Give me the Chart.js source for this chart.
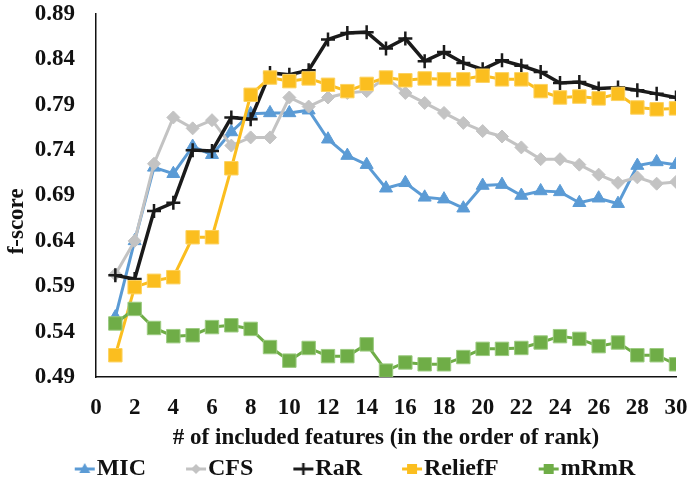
<!DOCTYPE html>
<html>
<head>
<meta charset="utf-8">
<script src="https://cdn.jsdelivr.net/npm/chart.js@4"></script>
<style>
    html, body { margin: 0; padding: 0; background: #fff; }
    #wrap { width: 688px; height: 491px; }
</style>
</head>
<body>
<div id="wrap"><canvas id="chart-fscore"></canvas></div>
<script>
const featureCounts = [1, 2, 3, 4, 5, 6, 7, 8, 9, 10, 11, 12, 13, 14, 15, 16, 17, 18, 19, 20, 21, 22, 23, 24, 25, 26, 27, 28, 29, 30];
const micScores = [0.556, 0.640, 0.721, 0.714, 0.744, 0.735, 0.760, 0.780, 0.781, 0.781, 0.784, 0.752, 0.734, 0.724, 0.698, 0.704, 0.688, 0.686, 0.676, 0.701, 0.702, 0.690, 0.695, 0.694, 0.682, 0.687, 0.681, 0.723, 0.727, 0.724];
const cfsScores = [0.603, 0.640, 0.725, 0.776, 0.764, 0.773, 0.745, 0.754, 0.754, 0.798, 0.788, 0.798, 0.803, 0.805, 0.820, 0.803, 0.792, 0.781, 0.770, 0.761, 0.755, 0.743, 0.730, 0.730, 0.724, 0.713, 0.704, 0.710, 0.703, 0.705];
const rarScores = [0.602, 0.598, 0.673, 0.682, 0.740, 0.739, 0.776, 0.774, 0.825, 0.823, 0.828, 0.862, 0.869, 0.870, 0.852, 0.863, 0.838, 0.848, 0.836, 0.829, 0.839, 0.833, 0.826, 0.814, 0.815, 0.808, 0.809, 0.806, 0.802, 0.798];
const reliefScores = [0.514, 0.589, 0.596, 0.600, 0.644, 0.644, 0.720, 0.801, 0.820, 0.816, 0.819, 0.812, 0.805, 0.813, 0.820, 0.817, 0.819, 0.818, 0.818, 0.822, 0.818, 0.818, 0.805, 0.798, 0.799, 0.797, 0.802, 0.787, 0.785, 0.786];
const mrmrScores = [0.549, 0.565, 0.544, 0.535, 0.536, 0.545, 0.547, 0.543, 0.523, 0.508, 0.522, 0.513, 0.513, 0.526, 0.497, 0.506, 0.504, 0.504, 0.512, 0.521, 0.521, 0.522, 0.528, 0.535, 0.532, 0.524, 0.528, 0.514, 0.514, 0.504];
const xTickValues = [0, 2, 4, 6, 8, 10, 12, 14, 16, 18, 20, 22, 24, 26, 28, 30];
const yTickValues = [0.49, 0.54, 0.59, 0.64, 0.69, 0.74, 0.79, 0.84, 0.89];

const FONT = "'Liberation Serif', 'Times New Roman', serif";
const LEGEND_BOX = 44;

const series = [
    { label: 'MIC', data: micScores, color: '#5B9BD5', marker: 'triangle', radius: 7.5, border: '#5B9BD5', width: 3 },
    { label: 'CFS', data: cfsScores, color: '#C3C3C3', marker: 'rectRot', radius: 6.5, border: '#C3C3C3', width: 3 },
    { label: 'RaR', data: rarScores, color: '#1A1A1A', marker: 'cross', radius: 7, border: '#1A1A1A', width: 3.5 },
    { label: 'ReliefF', data: reliefScores, color: '#FBBE1F', marker: 'rect', radius: 9.5, border: '#FCD260', width: 3 },
    { label: 'mRmR', data: mrmrScores, color: '#6FAD47', marker: 'rect', radius: 9.5, border: '#9CCB80', width: 3 }
];

// little line + marker picture for the legend, shifted right so it sits next to the text
function legendMarker(s) {
    const c = document.createElement('canvas');
    c.width = LEGEND_BOX + 24;
    c.height = 20;
    const g = c.getContext('2d');
    const cx = c.width - 12, cy = 10;
    g.strokeStyle = s.color;
    g.lineWidth = 3;
    g.beginPath();
    g.moveTo(cx - 10, cy);
    g.lineTo(cx + 10, cy);
    g.stroke();
    g.fillStyle = s.color;
    g.beginPath();
    if (s.marker === 'triangle') {
        g.moveTo(cx, cy - 6);
        g.lineTo(cx + 5.5, cy + 4);
        g.lineTo(cx - 5.5, cy + 4);
        g.closePath();
        g.fill();
    } else if (s.marker === 'rectRot') {
        g.moveTo(cx, cy - 5);
        g.lineTo(cx + 5, cy);
        g.lineTo(cx, cy + 5);
        g.lineTo(cx - 5, cy);
        g.closePath();
        g.fill();
    } else if (s.marker === 'cross') {
        g.lineWidth = 2.5;
        g.moveTo(cx, cy - 6);
        g.lineTo(cx, cy + 6);
        g.stroke();
    } else {
        g.fillRect(cx - 5, cy - 5, 10, 10);
    }
    return c;
}

const datasets = series.map((s, i) => ({
    label: s.label,
    data: featureCounts.map((n, j) => ({ x: n, y: s.data[j] })),
    borderColor: s.color,
    backgroundColor: s.color,
    borderWidth: s.width,
    pointStyle: s.marker,
    pointRadius: s.radius,
    pointBackgroundColor: s.color,
    pointBorderColor: s.border,
    pointBorderWidth: s.marker === 'cross' ? 2.5 : 1,
    tension: 0,
    order: series.length - i
}));

// invisible tick marks give the label gap (ticks.padding would also pad the chart area)
const hiddenGrid = len => ({ display: true, drawOnChartArea: false, drawTicks: true, tickLength: len, color: 'rgba(0,0,0,0)' });

const ctx = document.getElementById('chart-fscore').getContext('2d');
new Chart(ctx, {
    type: 'line',
    data: { datasets },
    options: {
        responsive: true,
        maintainAspectRatio: false,
        animation: false,
        layout: { autoPadding: false, padding: { top: 14, right: 12, left: 0, bottom: 0 } },
        plugins: {
            tooltip: { enabled: false },
            legend: {
                position: 'bottom',
                labels: {
                    usePointStyle: true,
                    pointStyleWidth: LEGEND_BOX,
                    padding: 6,
                    color: '#111',
                    font: { family: FONT, size: 24, weight: 'bold' },
                    generateLabels: () => series.map((s, i) => ({
                        text: s.label,
                        fillStyle: s.color,
                        strokeStyle: s.color,
                        lineWidth: 0,
                        pointStyle: legendMarker(s),
                        hidden: false,
                        datasetIndex: i,
                        fontColor: '#111'
                    }))
                }
            }
        },
        scales: {
            x: {
                type: 'linear',
                min: 0,
                max: 30,
                grid: hiddenGrid(17),
                border: { display: true, color: '#111', width: 1.5 },
                afterBuildTicks: scale => { scale.ticks = xTickValues.map(v => ({ value: v })); },
                afterFit: scale => { scale.height = 74; },
                ticks: {
                    padding: 0,
                    maxRotation: 0,
                    autoSkip: false,
                    color: '#111',
                    font: { family: FONT, size: 23, weight: 'bold' }
                },
                title: {
                    display: true,
                    text: '# of included features (in the order of rank)',
                    color: '#111',
                    padding: { top: 0, bottom: 1 },
                    font: { family: FONT, size: 23, weight: 'bold', lineHeight: 1 }
                }
            },
            y: {
                min: 0.49,
                max: 0.89,
                grid: hiddenGrid(21),
                border: { display: true, color: '#111', width: 1.5 },
                afterBuildTicks: scale => { scale.ticks = yTickValues.map(v => ({ value: v })); },
                afterFit: scale => { scale.width = 96; },
                ticks: {
                    padding: 0,
                    color: '#111',
                    font: { family: FONT, size: 23, weight: 'bold' },
                    callback: v => v.toFixed(2)
                },
                title: {
                    display: true,
                    // trailing spaces push the rotated title a little below the middle, as in the source
                    text: 'f-score\u00a0\u00a0\u00a0\u00a0\u00a0\u00a0\u00a0\u00a0\u00a0',
                    color: '#111',
                    padding: { top: 6, bottom: 0 },
                    font: { family: FONT, size: 23, weight: 'bold', lineHeight: 1 }
                }
            }
        }
    }
});
</script>
</body>
</html>
